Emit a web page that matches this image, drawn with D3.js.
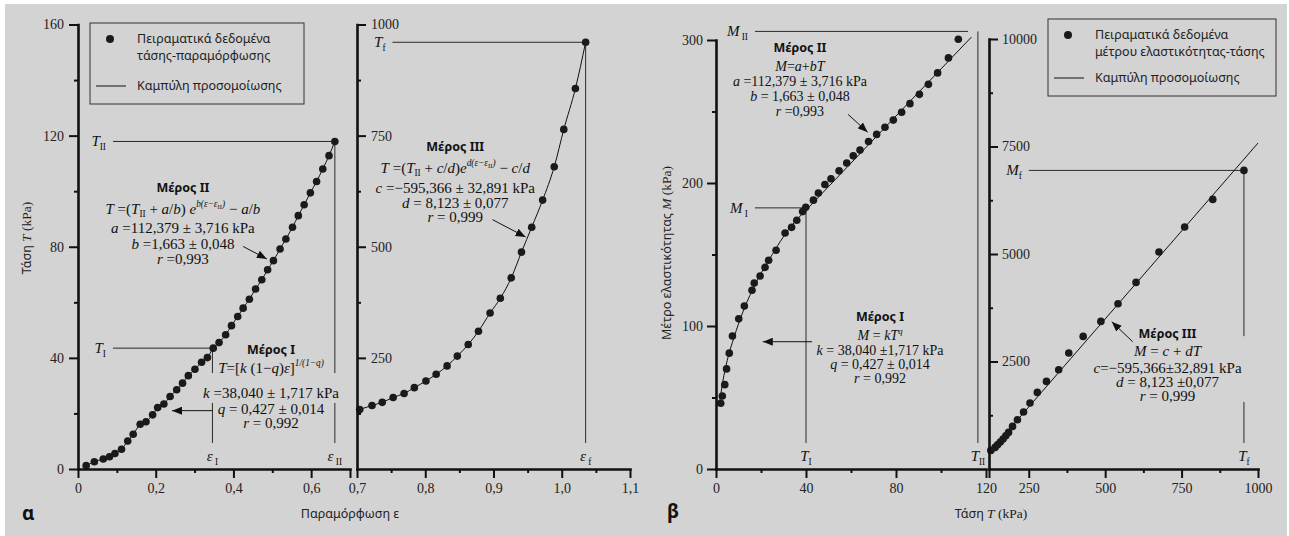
<!DOCTYPE html>
<html>
<head>
<meta charset="utf-8">
<script src="https://cdn.jsdelivr.net/npm/d3@7"></script>
<style>body{margin:0;background:#fff;}</style>
</head>
<body>
<script>
// ---- data ----

// panel a, part I+II : strain / stress
var epsA = [0.021,0.042,0.065,0.081,0.095,0.112,0.128,0.142,0.160,0.175,0.192,0.205,0.221,0.237,0.254,0.269,0.284,0.301,0.318,0.333,0.348,0.363,0.380,0.395,0.411,0.425,0.441,0.457,0.473,0.488,0.503,0.520,0.535,0.552,0.567,0.582,0.598,0.614,0.630,0.646,0.661];
var tensA = [1.2,2.6,3.6,4.4,5.6,7.1,10.1,12.5,16.1,17.0,19.5,22.1,23.4,26.1,28.5,30.9,33.6,35.9,38.4,40.1,43.5,45.5,48.3,51.6,54.9,57.9,61.1,64.8,68.1,71.7,75.0,79.2,82.8,87.0,91.2,95.1,99.4,103.5,108.0,112.8,117.9];

// panel a, part III
var epsA3 = [0.704,0.722,0.737,0.753,0.769,0.784,0.801,0.816,0.832,0.847,0.863,0.878,0.895,0.910,0.926,0.941,0.956,0.972,0.989,1.003,1.020,1.035];
var tensA3 = [134,143,150,161,170,183,198,213,232,254,280,310,351,384,430,488,544,605,680,764,856,960];

// panel b, part I+II : stress / modulus
var tensB = [2.1,2.8,3.9,4.7,5.9,7.3,10.1,12.6,16.0,17.0,19.6,21.8,23.4,26.7,30.7,33.6,35.9,38.5,39.9,43.3,45.5,48.4,51.1,54.7,58.1,61.0,64.0,67.8,71.4,75.1,78.8,82.5,86.2,90.4,94.4,98.5,103.3,107.7];
var modB = [46,51,59,70,81,93,105,114,125,130,135,141,146,153,165,169,174,180,183,188,193,199,203,208.5,214,219,223,229,234,239,244,249.5,255.5,262,269,277,287.5,300.5];

// panel b, part III
var tensB3 = [126,140,148,157,166,175,184,197,213,233,254,278,308,348,381,428,486,542,601,676,760,852,954];
var modB3 = [433,502,565,628,698,774,851,991,1147,1326,1535,1781,2037,2309,2698,3084,3433,3844,4340,5047,5628,6270,6944];

// fitted curves of panel b as drawn
var fitB1T = [1.5,3,5,8,12,18,25,32,40];
var fitB1M = [45,61,76,92,110,131,150,167,181];
var fitB2T = [40,113.5];
var fitB2M = [181,302];
var fitB3T = [120,1000];
var fitB3M = [380,7580];

// characteristic points
var epsI = 0.346, TI = 43.5, epsII = 0.661, TII = 117.9, epsF = 1.035, TF = 960;
var bTI = 40, bMI = 182.6, bTII = 116.4, bMII = 306, bTF = 954, bMF = 6944;

// ticks
var xA1Major = [0,0.2,0.4,0.6,0.7], xA1Labels = ["0","0,2","0,4","0,6",""], xA1Minor = [0.1,0.3,0.5];
var xA3Major = [0.7,0.8,0.9,1.0,1.1], xA3Labels = ["0,7","0,8","0,9","1,0","1,1"], xA3Minor = [0.75,0.85,0.95,1.05];
var yA1Major = [0,40,80,120,160], yA1Labels = ["0","40","80","120","160"], yA1Minor = [20,60,100,140];
var yA3Major = [250,500,750,1000], yA3Labels = ["250","500","750","1000"], yA3Minor = [125,375,625,875];
var xB1Major = [0,40,80,120], xB1Labels = ["0","40","80","120"], xB1Minor = [20,60,100];
var yB1Major = [0,100,200,300], yB1Labels = ["0","100","200","300"], yB1Minor = [50,150,250];
var xB3Major = [120,250,500,750,1000], xB3Labels = ["","250","500","750","1000"], xB3Minor = [375,625,875];
var yB3Major = [2500,5000,7500,10000], yB3Labels = ["2500","5000","7500","10000"], yB3Minor = [1250,3750,6250,8750];

// ---- drawing ----
var width = 1289, height = 536;
var BG = "#d3d3d3", INK = "#111";
var SERIF = "'Liberation Serif','Times New Roman',serif";
var SANS = "'Noto Sans','DejaVu Sans',sans-serif";

var svg = d3.select("body").append("svg").attr("width", width).attr("height", height);
svg.append("rect").attr("x",5).attr("y",4).attr("width",1282).attr("height",532).attr("fill",BG);

svg.append("defs").append("marker")
    .attr("id","head").attr("viewBox","0 0 10 8").attr("refX",10).attr("refY",4)
    .attr("markerWidth",10).attr("markerHeight",8).attr("markerUnits","userSpaceOnUse").attr("orient","auto")
  .append("path").attr("d","M0,0 L10,4 L0,8 Z").attr("fill",INK);

var xA1 = d3.scaleLinear().domain([0,0.7]).range([78,350]);
var yA1 = d3.scaleLinear().domain([0,160]).range([469,24.5]);
var xA3 = d3.scaleLinear().domain([0.7,1.1]).range([357,630]);
var yA3 = d3.scaleLinear().domain([0,1000]).range([469,24.5]);
var xB1 = d3.scaleLinear().domain([0,120]).range([716,986]);
var yB1 = d3.scaleLinear().domain([0,300]).range([469,40]);
var xB3 = d3.scaleLinear().domain([120,1000]).range([989,1258]);
var yB3 = d3.scaleLinear().domain([0,10000]).range([469,39]);

var layerLines = svg.append("g");
var layerData = svg.append("g");
var layerAxes = svg.append("g");
var layerText = svg.append("g");

// rich text: segments [style, text]
function rich(g, x, y, segs, size, anchor) {
  var t = g.append("text").attr("x",x).attr("y",y).attr("text-anchor",anchor || "middle")
      .style("font-family",SERIF).style("font-size",size+"px").style("white-space","pre").attr("fill",INK);
  var cur = 0;
  segs.forEach(function(s) {
    var st = s[0], shift = 0, fs = size, it = false;
    if (st == "i") it = true;
    if (st == "sub") { shift = 0.25*size; fs = 0.62*size; }
    if (st == "sup") { shift = -0.42*size; fs = 0.62*size; it = true; }
    if (st == "supsub") { shift = -0.3*size; fs = 0.45*size; }
    t.append("tspan").attr("dy", shift-cur).style("font-size",fs+"px")
        .style("font-style", it ? "italic" : "normal").text(s[1]);
    cur = shift;
  });
  return t;
}

function drawAxis(tr, gen, scale, majors, labels, minors, pad) {
  var g = layerAxes.append("g").attr("transform", tr);
  g.call(gen(scale).tickValues(majors).tickFormat(function(d,i){ return labels[i]; })
      .tickSize(9).tickSizeOuter(0).tickPadding(pad));
  var g2 = g.append("g").call(gen(scale).tickValues(minors).tickFormat("").tickSize(4).tickSizeOuter(0));
  g2.select(".domain").remove();
  g.selectAll(".domain").attr("stroke",INK).attr("stroke-width",2.6).attr("stroke-linecap","square");
  g.selectAll(".tick line").attr("stroke",INK).attr("stroke-width",2);
  g.selectAll(".tick text").style("font-family",SERIF).style("font-size","14px").attr("fill","#222");
}

drawAxis("translate(0,469)", d3.axisBottom, xA1, xA1Major, xA1Labels, xA1Minor, 5);
drawAxis("translate(78,0)", d3.axisLeft, yA1, yA1Major, yA1Labels, yA1Minor, 5);
drawAxis("translate(0,469)", d3.axisBottom, xA3, xA3Major, xA3Labels, xA3Minor, 5);
drawAxis("translate(357,0)", d3.axisRight, yA3, yA3Major, yA3Labels, yA3Minor, 5);
drawAxis("translate(0,469)", d3.axisBottom, xB1, xB1Major, xB1Labels, xB1Minor, 5);
drawAxis("translate(716,0)", d3.axisLeft, yB1, yB1Major, yB1Labels, yB1Minor, 4);
drawAxis("translate(0,469)", d3.axisBottom, xB3, xB3Major, xB3Labels, xB3Minor, 5);
drawAxis("translate(989,0)", d3.axisRight, yB3, yB3Major, yB3Labels, yB3Minor, 4);

// ---- curves and points ----
function curve(xs, ys, xv, yv, kind) {
  var pts = xv.map(function(d,i){ return [d, yv[i]]; });
  layerData.append("path").datum(pts)
      .attr("d", d3.line().x(function(d){ return xs(d[0]); }).y(function(d){ return ys(d[1]); }).curve(kind))
      .attr("fill","none").attr("stroke",INK).attr("stroke-width",1);
}
function dots(xs, ys, xv, yv) {
  layerData.append("g").selectAll("circle").data(xv).enter().append("circle")
      .attr("cx", function(d){ return xs(d); })
      .attr("cy", function(d,i){ return ys(yv[i]); })
      .attr("r", 3.8).attr("fill","#1a1a1a");
}

curve(xA1, yA1, epsA, tensA, d3.curveMonotoneX);
curve(xA3, yA3, epsA3, tensA3, d3.curveMonotoneX);
curve(xB1, yB1, fitB1T, fitB1M, d3.curveMonotoneX);
curve(xB1, yB1, fitB2T, fitB2M, d3.curveLinear);
curve(xB3, yB3, fitB3T, fitB3M, d3.curveLinear);
dots(xA1, yA1, epsA, tensA);
dots(xA3, yA3, epsA3, tensA3);
dots(xB1, yB1, tensB, modB);
dots(xB3, yB3, tensB3, modB3);

// ---- guide lines ----
function seg(x1, y1, x2, y2) {
  layerLines.append("line").attr("x1",x1).attr("y1",y1).attr("x2",x2).attr("y2",y2)
      .attr("stroke","#2a2a2a").attr("stroke-width",1);
}
function hGuide(xs, ys, from, to, yv, lab) {
  seg(xs(from), ys(yv), xs(to), ys(yv));
  rich(layerText, xs(from)-7, ys(yv)+5, lab, 15, "end");
}
function vGuide(xs, ys, xv, top, gap, lab) {
  var bottom = ys(0) - 26;
  if (gap) {
    seg(xs(xv), ys(top), xs(xv), ys(gap[1]));
    seg(xs(xv), ys(gap[0]), xs(xv), bottom);
  } else {
    seg(xs(xv), ys(top), xs(xv), bottom);
  }
  rich(layerText, xs(xv), ys(0)-8, lab, 15, "middle");
}
function arrow(xs, ys, a) {
  layerLines.append("line").attr("x1",xs(a[0])).attr("y1",ys(a[1])).attr("x2",xs(a[2])).attr("y2",ys(a[3]))
      .attr("stroke",INK).attr("stroke-width",1).attr("marker-end","url(#head)");
}

var gapA = [23.8, 34.5];
var gapB = [1560, 3090];

hGuide(xA1, yA1, 0.09, epsII, TII, [["i","T"],["sub","II"]]);
hGuide(xA1, yA1, 0.09, epsI, TI, [["i","T"],["sub","I"]]);
vGuide(xA1, yA1, epsII, TII, gapA, [["i","ε"],["sub"," II"]]);
vGuide(xA1, yA1, epsI, TI, gapA, [["i","ε"],["sub"," I"]]);
hGuide(xA3, yA3, 0.752, epsF, TF, [["i","T"],["sub","f"]]);
vGuide(xA3, yA3, epsF, TF, null, [["i","ε"],["sub"," f"]]);

hGuide(xB1, yB1, 17.3, 112, bMII, [["i","M"],["sub"," II"]]);
hGuide(xB1, yB1, 17.3, bTI, bMI, [["i","M"],["sub"," I"]]);
vGuide(xB1, yB1, bTII, bMII, null, [["i","T"],["sub","II"]]);
vGuide(xB1, yB1, bTI, bMI, null, [["i","T"],["sub","I"]]);
hGuide(xB3, yB3, 250, bTF, bMF, [["i","M"],["sub","f"]]);
vGuide(xB3, yB3, bTF, bMF, gapB, [["i","T"],["sub","f"]]);

arrow(xA1, yA1, [0.425, 80.1, 0.486, 75.6]);
arrow(xA1, yA1, [0.3456, 21.0, 0.242, 21.0]);
arrow(xA3, yA3, [0.8985, 561, 0.947, 522]);
arrow(xB1, yB1, [58.7, 248, 67.4, 235.5]);
arrow(xB1, yB1, [42.7, 89, 20.8, 89]);
arrow(xB3, yB3, [590, 2960, 521.6, 3425]);

// ---- fit annotations ----
function block(xs, ys, b) {
  var cx = xs(b.x), cy = ys(b.y);
  layerText.append("text").attr("x",cx).attr("y",cy+4.5).attr("text-anchor","middle")
      .style("font-family",SANS).style("font-weight","bold").style("font-size","12.5px")
      .attr("fill",INK).text(b.title);
  b.lines.forEach(function(segs, i) {
    rich(layerText, cx, cy + b.offsets[i] + b.size*0.33, segs, b.size, "middle");
  });
}

block(xA1, yA1, { x: 0.270, y: 101.3, size: 15, offsets: [21,40,56,71], title: "Μέρος II", lines: [
  [["i","T"],["r"," =("],["i","T"],["sub","II"],["r"," + "],["i","a"],["r","/"],["i","b"],["r",") "],["i","e"],["sup","b(ε−ε"],["supsub","II"],["sup",")"],["r"," − "],["i","a"],["r","/"],["i","b"]],
  [["i","a"],["r"," =112,379 ± 3,716 kPa"]],
  [["i","b"],["r"," =1,663 ± 0,048"]],
  [["i","r"],["r"," =0,993"]]
]});
block(xA1, yA1, { x: 0.4967, y: 42.9, size: 15, offsets: [18,43,59,73], title: "Μέρος I", lines: [
  [["i","T"],["r","=["],["i","k"],["r"," (1−"],["i","q"],["r",")"],["i","ε"],["r","]"],["sup","1/(1−q)"]],
  [["i","k"],["r"," =38,040 ± 1,717 kPa"]],
  [["i","q"],["r"," = 0,427 ± 0,014"]],
  [["i","r"],["r"," = 0,992"]]
]});
block(xA3, yA3, { x: 0.844, y: 725, size: 15, offsets: [21,41,56,70], title: "Μέρος III", lines: [
  [["i","T"],["r"," =("],["i","T"],["sub","II"],["r"," + "],["i","c"],["r","/"],["i","d"],["r",")"],["i","e"],["sup","d(ε−ε"],["supsub","II"],["sup",")"],["r"," − "],["i","c"],["r","/"],["i","d"]],
  [["i","c"],["r"," =−595,366 ± 32,891 kPa"]],
  [["i","d"],["r"," = 8,123 ± 0,077"]],
  [["i","r"],["r"," = 0,999"]]
]});
block(xB1, yB1, { x: 37.3, y: 295, size: 14, offsets: [19,34,49,64], title: "Μέρος II", lines: [
  [["i","M"],["r","="],["i","a"],["r","+"],["i","bT"]],
  [["i","a"],["r"," =112,379 ± 3,716 kPa"]],
  [["i","b"],["r"," = 1,663 ± 0,048"]],
  [["i","r"],["r"," =0,993"]]
]});
block(xB1, yB1, { x: 72.9, y: 106.7, size: 14, offsets: [19,34,48,62], title: "Μέρος I", lines: [
  [["i","M"],["r"," = "],["i","kT"],["sup","q"]],
  [["i","k"],["r"," = 38,040 ±1,717 kPa"]],
  [["i","q"],["r"," = 0,427 ± 0,014"]],
  [["i","r"],["r"," = 0,992"]]
]});
block(xB3, yB3, { x: 704, y: 3140, size: 15, offsets: [17,34,48,62], title: "Μέρος III", lines: [
  [["i","M"],["r"," = "],["i","c"],["r"," + "],["i","dT"]],
  [["i","c"],["r","=−595,366±32,891 kPa"]],
  [["i","d"],["r"," = 8,123 ±0,077"]],
  [["i","r"],["r"," = 0,999"]]
]});

// ---- legends ----
function legend(x, y, w, h, l1, l2) {
  var g = layerText.append("g");
  g.append("rect").attr("x",x).attr("y",y).attr("width",w).attr("height",h)
      .attr("fill","none").attr("stroke","#333").attr("stroke-width",1);
  g.append("circle").attr("cx",x+20).attr("cy",y+16).attr("r",4).attr("fill","#1a1a1a");
  g.append("line").attr("x1",x+6).attr("x2",x+36).attr("y1",y+h-18).attr("y2",y+h-18)
      .attr("stroke",INK).attr("stroke-width",1);
  var t = g.append("g").style("font-family",SANS).style("font-size","12.5px").attr("fill","#222");
  t.append("text").attr("x",x+47).attr("y",y+20).text(l1[0]);
  t.append("text").attr("x",x+47).attr("y",y+37).text(l1[1]);
  t.append("text").attr("x",x+47).attr("y",y+h-14).text(l2);
}
legend(90, 23, 214, 81, ["Πειραματικά δεδομένα","τάσης-παραμόρφωσης"], "Καμπύλη προσομοίωσης");
legend(1048, 19, 228, 77, ["Πειραματικά δεδομένα","μέτρου ελαστικότητας-τάσης"], "Καμπύλη προσομοίωσης");

// ---- axis titles and panel letters ----
function title(x, y, rot, parts) {
  var t = layerText.append("text").attr("text-anchor","middle").style("white-space","pre")
      .attr("transform","translate("+x+","+y+")"+(rot ? " rotate(-90)" : "")).attr("fill","#222");
  parts.forEach(function(p) {
    t.append("tspan").style("font-family", p[0]=="s" ? SANS : SERIF)
        .style("font-size", p[0]=="s" ? "12.5px" : "13.5px")
        .style("font-style", p[0]=="i" ? "italic" : "normal").text(p[1]);
  });
}
title(31, 238, true, [["s","Τάση "],["i","T"],["r"," (kPa)"]]);
title(350, 518, false, [["s","Παραμόρφωση ε"]]);
title(671, 253, true, [["s","Μέτρο ελαστικότητας "],["i","M"],["r"," (kPa)"]]);
title(991, 518, false, [["s","Τάση "],["i","T"],["r"," (kPa)"]]);

layerText.append("text").text("α").attr("x",22).attr("y",520)
    .style("font-family",SANS).style("font-weight","bold").style("font-size","19px").attr("fill",INK);
layerText.append("text").text("β").attr("x",667).attr("y",518)
    .style("font-family",SANS).style("font-weight","bold").style("font-size","19px").attr("fill",INK);
</script>
</body>
</html>
